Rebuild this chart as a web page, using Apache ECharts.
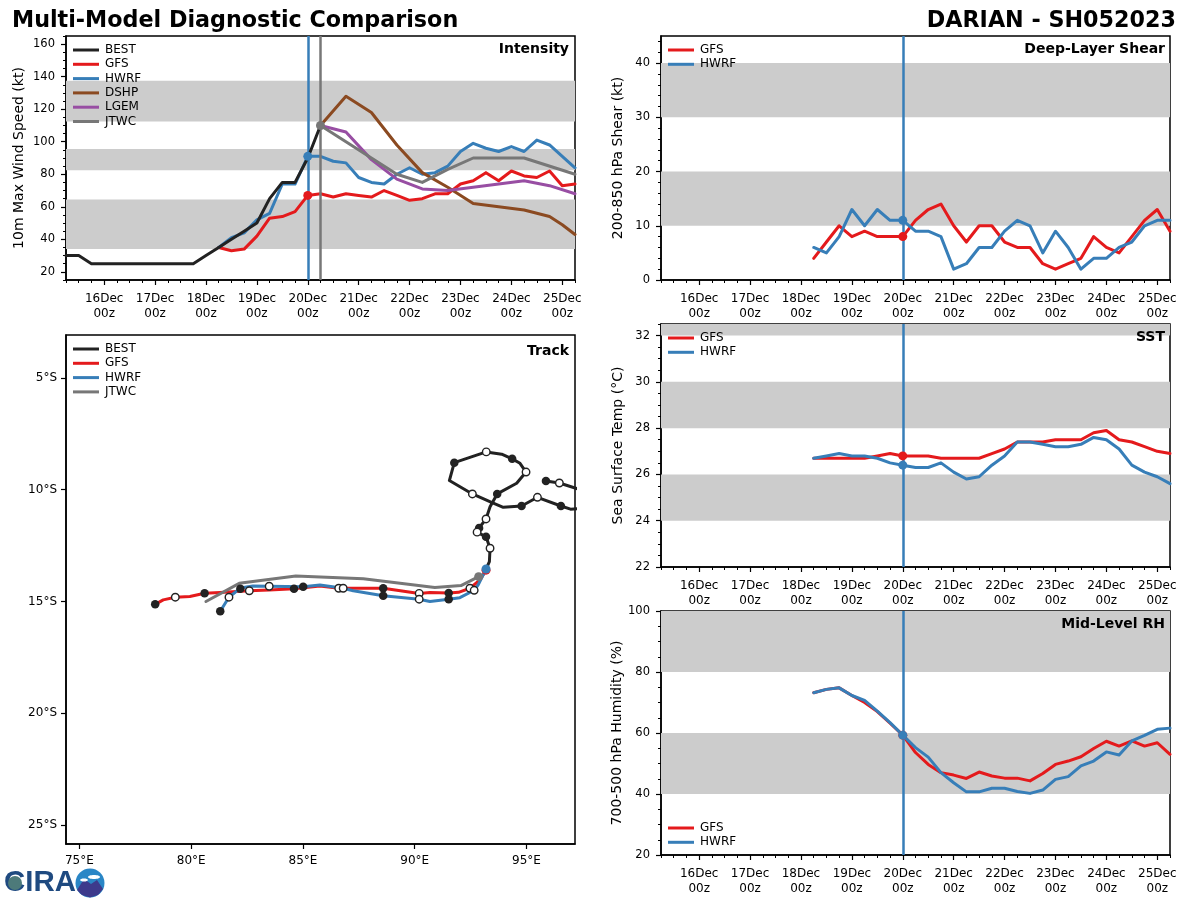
<!DOCTYPE html>
<html>
<head>
<meta charset="utf-8">
<title>Multi-Model Diagnostic Comparison</title>
<script src="https://cdn.jsdelivr.net/npm/echarts@6/dist/echarts.min.js"></script>
<style>
  html, body { margin: 0; padding: 0; background: #fff; }
  #chart { width: 1200px; height: 900px; }
</style>
</head>
<body>
<div id="chart"></div>
<script>
var COLOR_BEST = '#222222';
var COLOR_GFS = '#e41a1c';
var COLOR_HWRF = '#377eb8';
var COLOR_DSHP = '#8b4a21';
var COLOR_LGEM = '#984ea3';
var COLOR_JTWC = '#777777';
var COLOR_BAND = '#cccccc';
var FONT = '"DejaVu Sans", sans-serif';

// 6 hourly, 15Dec 06z .. 25Dec 06z
var timeLabels = [
  '15Dec06z', '15Dec12z', '15Dec18z',
  '16Dec00z', '16Dec06z', '16Dec12z', '16Dec18z',
  '17Dec00z', '17Dec06z', '17Dec12z', '17Dec18z',
  '18Dec00z', '18Dec06z', '18Dec12z', '18Dec18z',
  '19Dec00z', '19Dec06z', '19Dec12z', '19Dec18z',
  '20Dec00z', '20Dec06z', '20Dec12z', '20Dec18z',
  '21Dec00z', '21Dec06z', '21Dec12z', '21Dec18z',
  '22Dec00z', '22Dec06z', '22Dec12z', '22Dec18z',
  '23Dec00z', '23Dec06z', '23Dec12z', '23Dec18z',
  '24Dec00z', '24Dec06z', '24Dec12z', '24Dec18z',
  '25Dec00z', '25Dec06z'
];
var modelTimes = timeLabels.slice(12);

// intensity (kt)
var bestWind = [30, 30, 25, 25, 25, 25, 25, 25, 25, 25, 25, 30, 35, 40, 45, 50, 65, 75, 75, 90, 110];
var gfsWind = [35, 33, 34, 42, 53, 54, 57, 67, 68, 66, 68, 67, 66, 70, 67, 64, 65, 68, 68, 74, 76, 81, 76, 82, 79, 78, 82, 73, 74];
var hwrfWind = [35, 41, 44, 52, 56, 74, 74, 91, 91, 88, 87, 78, 75, 74, 80, 84, 80, 81, 85, 94, 99, 96, 94, 97, 94, 101, 98, 91, 84];
var dshpTimes = ['20Dec06z', '20Dec18z', '21Dec06z', '21Dec18z', '22Dec06z', '22Dec18z', '23Dec06z', '23Dec18z', '24Dec06z', '24Dec18z', '25Dec00z', '25Dec06z'];
var dshpWind = [110, 128, 118, 98, 81, 72, 62, 60, 58, 54, 49, 43];
var lgemTimes = ['20Dec06z', '20Dec18z', '21Dec06z', '21Dec18z', '22Dec06z', '22Dec18z', '23Dec06z', '23Dec18z', '24Dec06z', '24Dec18z', '25Dec06z'];
var lgemWind = [110, 106, 89, 77, 71, 70, 72, 74, 76, 73, 68];
var jtwcTimes = ['20Dec06z', '20Dec18z', '21Dec06z', '21Dec18z', '22Dec06z', '22Dec18z', '23Dec06z', '24Dec06z', '25Dec06z'];
var jtwcWind = [110, 100, 90, 80, 75, 83, 90, 90, 80];

// deep layer shear (kt)
var gfsShear = [4, 7, 10, 8, 9, 8, 8, 8, 11, 13, 14, 10, 7, 10, 10, 7, 6, 6, 3, 2, 3, 4, 8, 6, 5, 8, 11, 13, 9];
var hwrfShear = [6, 5, 8, 13, 10, 13, 11, 11, 9, 9, 8, 2, 3, 6, 6, 9, 11, 10, 5, 9, 6, 2, 4, 4, 6, 7, 10, 11, 11];

// sst (C)
var gfsSst = [26.7, 26.7, 26.7, 26.7, 26.7, 26.8, 26.9, 26.8, 26.8, 26.8, 26.7, 26.7, 26.7, 26.7, 26.9, 27.1, 27.4, 27.4, 27.4, 27.5, 27.5, 27.5, 27.8, 27.9, 27.5, 27.4, 27.2, 27.0, 26.9];
var hwrfSst = [26.7, 26.8, 26.9, 26.8, 26.8, 26.7, 26.5, 26.4, 26.3, 26.3, 26.5, 26.1, 25.8, 25.9, 26.4, 26.8, 27.4, 27.4, 27.3, 27.2, 27.2, 27.3, 27.6, 27.5, 27.1, 26.4, 26.1, 25.9, 25.6];

// mid level rh (%)
var gfsRh = [73.2, 74.3, 74.8, 72.3, 70, 67, 63.2, 59.3, 53.6, 49.7, 47, 46.2, 45.1, 47.2, 45.9, 45.2, 45.2, 44.3, 46.7, 49.7, 50.8, 52.2, 54.9, 57.3, 55.7, 57.4, 55.7, 56.8, 53];
var hwrfRh = [73.2, 74.3, 74.8, 72.3, 70.7, 67.2, 63.4, 59.3, 55.2, 52.1, 47, 43.7, 40.7, 40.7, 41.9, 41.9, 40.8, 40.2, 41.3, 44.8, 45.7, 49.2, 50.8, 53.8, 52.8, 57.4, 59.2, 61.2, 61.6];

// track, [lon, lat]
var bestTrack = [
  [95.87, -9.61], [96.47, -9.70], [97.35, -9.98], [97.6, -10.5], [97.35, -10.85], [96.97, -10.87], [96.54, -10.73],
  [95.49, -10.34], [94.78, -10.73], [93.96, -10.79], [93.41, -10.56], [92.58, -10.19], [91.55, -9.59], [91.77, -8.79],
  [93.2, -8.31], [93.89, -8.41], [94.36, -8.62], [94.71, -8.82], [94.98, -9.21], [94.56, -9.71], [93.69, -10.19],
  [93.37, -10.76], [93.19, -11.31], [92.88, -11.71], [92.79, -11.9], [93.19, -12.11], [93.37, -12.62], [93.34, -13.22], [93.19, -13.55]
];
var gfsTrack = [
  [93.19, -13.6], [92.92, -14.04], [92.47, -14.41], [91.96, -14.59], [91.52, -14.62], [90.68, -14.6], [90.2, -14.64], [88.59, -14.41],
  [86.6, -14.41], [85.76, -14.31], [84.6, -14.43], [83.49, -14.49], [82.6, -14.52], [81.29, -14.6], [80.6, -14.63], [79.94, -14.78],
  [79.29, -14.81], [78.75, -14.93], [78.39, -15.13]
];
var hwrfTrack = [
  [93.19, -13.55], [92.84, -14.26], [92.66, -14.5], [92.02, -14.83], [91.52, -14.9], [90.68, -15.0], [90.2, -14.9], [88.59, -14.74],
  [87.25, -14.52], [86.8, -14.41], [85.76, -14.26], [85.01, -14.34], [83.49, -14.32], [82.76, -14.31], [82.2, -14.4], [81.69, -14.81], [81.3, -15.44]
];
var jtwcTrack = [
  [92.86, -13.89], [92.07, -14.29], [90.9, -14.38], [87.7, -13.98], [84.68, -13.86], [82.15, -14.19], [80.66, -15.0]
];
var trackBlackDots = [
  [95.87, -9.61], [96.54, -10.73], [94.78, -10.73], [91.77, -8.79], [94.36, -8.62], [93.69, -10.19], [92.88, -11.71], [93.19, -12.11],
  [91.52, -14.62], [91.52, -14.9], [88.59, -14.41], [88.59, -14.74], [84.6, -14.43], [85.01, -14.34], [82.2, -14.43], [80.6, -14.63], [78.39, -15.13], [81.3, -15.44]
];
var trackWhiteDots = [
  [96.47, -9.70], [95.49, -10.34], [92.58, -10.19], [93.2, -8.31], [94.98, -9.21], [93.19, -11.31], [92.79, -11.9], [93.37, -12.62],
  [92.47, -14.41], [92.66, -14.5], [90.2, -14.64], [90.2, -14.9], [86.6, -14.41], [86.8, -14.41], [83.49, -14.32], [82.6, -14.52], [81.69, -14.81], [79.29, -14.81]
];

var windBands = [[34, 64.5], [82.5, 95.5], [112.5, 137.5]];
var shearBands = [[10, 20], [30, 40]];
var sstBands = [[24, 26], [28, 30], [32, 32.5]];
var rhBands = [[40, 60], [80, 100]];

var windTicks = [20, 40, 60, 80, 100, 120, 140, 160];
var shearTicks = [0, 10, 20, 30, 40];
var sstTicks = [22, 24, 26, 28, 30, 32];
var rhTicks = [20, 40, 60, 80, 100];
var lonTicks = [75, 80, 85, 90, 95];
var latTicks = [-5, -10, -15, -20, -25];

function minorValues(min, max, step, majors){
  var out = [];
  for (var v = min; v <= max + 1e-9; v += step) {
    if (majors.indexOf(v) < 0) {
      out.push(v);
    }
  }
  return out;
}

function zipXY(xs, ys){
  return ys.map(function(y, i){
    return [xs[i], y];
  });
}

var grids = [];
var xAxes = [];
var yAxes = [];
var series = [];
var legends = [];

var majorTimeIdx = function(i){
  return i % 4 === 3;
};

// adds one time panel, returns its axis index
function addTimePanel(left, top, height, yName, yMin, yMax, ticks, minorStep, nameGap){
  var g = grids.length;
  grids.push({
    left: left, top: top, width: 509, height: height, show: true,
    borderColor: '#000', borderWidth: 1.5, backgroundColor: 'transparent', containLabel: false
  });
  xAxes.push({
    type: 'category', gridIndex: g, data: timeLabels, boundaryGap: false, position: 'bottom',
    axisLine: {lineStyle: {color: '#000', width: 1.5}},
    axisTick: {alignWithLabel: true, interval: majorTimeIdx, length: 5, lineStyle: {color: '#000', width: 1.2}},
    axisLabel: {
      interval: majorTimeIdx, color: '#000', fontFamily: FONT, fontSize: 12, lineHeight: 15, margin: 11,
      hideOverlap: false,
      formatter: function(v){
        return v.substring(0, 5) + '\n' + v.substring(5);
      }
    },
    splitLine: {show: false}
  });
  xAxes.push({
    type: 'category', gridIndex: g, data: timeLabels, boundaryGap: false, position: 'bottom',
    axisLine: {show: false},
    axisTick: {alignWithLabel: true, interval: 0, length: 3, lineStyle: {color: '#000', width: 1}},
    axisLabel: {show: false},
    splitLine: {show: false}
  });
  yAxes.push({
    type: 'value', gridIndex: g, min: yMin, max: yMax, position: 'left',
    name: yName, nameLocation: 'middle', nameRotate: 90, nameGap: nameGap,
    nameTextStyle: {color: '#000', fontFamily: FONT, fontSize: 14},
    axisLine: {show: true, lineStyle: {color: '#000', width: 1.5}},
    axisTick: {show: true, customValues: ticks, length: 5, lineStyle: {color: '#000', width: 1.2}},
    axisLabel: {customValues: ticks, color: '#000', fontFamily: FONT, fontSize: 11.5, margin: 11, padding: [5, 0, 0, 0]},
    splitLine: {show: false}
  });
  yAxes.push({
    type: 'value', gridIndex: g, min: yMin, max: yMax, position: 'left',
    axisLine: {show: false},
    axisTick: {show: true, customValues: minorValues(yMin, yMax, minorStep, ticks), length: 3, lineStyle: {color: '#000', width: 1}},
    axisLabel: {show: false},
    splitLine: {show: false}
  });
  return xAxes.length - 2;
}

function addBands(axisIdx, bands, lines){
  var yIdx = axisIdx;
  series.push({
    type: 'line', xAxisIndex: axisIdx, yAxisIndex: yIdx, data: [], z: 1, silent: true,
    markArea: {
      silent: true,
      itemStyle: {color: COLOR_BAND},
      data: bands.map(function(b){
        return [{yAxis: b[0]}, {yAxis: b[1]}];
      })
    }
  });
  lines.forEach(function(l){
    series.push({
      type: 'line', xAxisIndex: axisIdx, yAxisIndex: yIdx, data: [], z: 3, silent: true,
      markLine: {
        silent: true, symbol: 'none', animation: false, label: {show: false},
        lineStyle: {color: l.color, width: 2.5, type: 'solid'},
        data: [{xAxis: l.time}]
      }
    });
  });
}

function addLine(axisIdx, name, color, times, values, z){
  series.push({
    type: 'line', name: name, xAxisIndex: axisIdx, yAxisIndex: axisIdx,
    data: zipXY(times, values), symbol: 'none', z: z || 4, clip: true,
    lineStyle: {color: color, width: 3, cap: 'round', join: 'round'},
    itemStyle: {color: color}
  });
}

function addDot(axisIdx, color, time, value){
  series.push({
    type: 'scatter', xAxisIndex: axisIdx, yAxisIndex: axisIdx, data: [[time, value]],
    symbol: 'circle', symbolSize: 9, z: 6, itemStyle: {color: color, opacity: 1}
  });
}

function addLegend(left, top, names){
  legends.push({
    left: left, top: top, orient: 'vertical', data: names, selectedMode: false,
    icon: 'rect', itemWidth: 26, itemHeight: 3, itemGap: 2.3, padding: 0,
    textStyle: {color: '#000', fontFamily: FONT, fontSize: 12, padding: [0, 0, 0, 1]}
  });
}

var NOW_LINE = {color: COLOR_HWRF, time: '20Dec00z'};
var JTWC_LINE = {color: COLOR_JTWC, time: '20Dec06z'};

// Intensity
var ax = addTimePanel(66, 36, 244, '10m Max Wind Speed (kt)', 15, 165, windTicks, 5, 40);
addBands(ax, windBands, [NOW_LINE, JTWC_LINE]);
addLine(ax, 'GFS', COLOR_GFS, modelTimes, gfsWind);
addLine(ax, 'HWRF', COLOR_HWRF, modelTimes, hwrfWind);
addLine(ax, 'DSHP', COLOR_DSHP, dshpTimes, dshpWind);
addLine(ax, 'LGEM', COLOR_LGEM, lgemTimes, lgemWind);
addLine(ax, 'JTWC', COLOR_JTWC, jtwcTimes, jtwcWind);
addLine(ax, 'BEST', COLOR_BEST, timeLabels, bestWind, 5);
addDot(ax, COLOR_GFS, '20Dec00z', gfsWind[7]);
addDot(ax, COLOR_HWRF, '20Dec00z', hwrfWind[7]);
addDot(ax, COLOR_JTWC, '20Dec06z', jtwcWind[0]);
addLegend(73, 44, ['BEST', 'GFS', 'HWRF', 'DSHP', 'LGEM', 'JTWC']);

// Deep-Layer Shear
ax = addTimePanel(661, 36, 244, '200-850 hPa Shear (kt)', 0, 45, shearTicks, 2, 36);
addBands(ax, shearBands, [NOW_LINE]);
addLine(ax, 'GFS', COLOR_GFS, modelTimes, gfsShear);
addLine(ax, 'HWRF', COLOR_HWRF, modelTimes, hwrfShear);
addDot(ax, COLOR_GFS, '20Dec00z', gfsShear[7]);
addDot(ax, COLOR_HWRF, '20Dec00z', hwrfShear[7]);
addLegend(668, 44, ['GFS', 'HWRF']);

// SST
ax = addTimePanel(661, 324, 243, 'Sea Surface Temp (°C)', 22, 32.5, sstTicks, 0.5, 36);
addBands(ax, sstBands, [NOW_LINE]);
addLine(ax, 'GFS', COLOR_GFS, modelTimes, gfsSst);
addLine(ax, 'HWRF', COLOR_HWRF, modelTimes, hwrfSst);
addDot(ax, COLOR_GFS, '20Dec00z', gfsSst[7]);
addDot(ax, COLOR_HWRF, '20Dec00z', hwrfSst[7]);
addLegend(668, 332, ['GFS', 'HWRF']);

// Mid-Level RH
ax = addTimePanel(661, 611, 244, '700-500 hPa Humidity (%)', 20, 100, rhTicks, 5, 36);
addBands(ax, rhBands, [NOW_LINE]);
addLine(ax, 'GFS', COLOR_GFS, modelTimes, gfsRh);
addLine(ax, 'HWRF', COLOR_HWRF, modelTimes, hwrfRh);
addDot(ax, COLOR_GFS, '20Dec00z', gfsRh[7]);
addDot(ax, COLOR_HWRF, '20Dec00z', hwrfRh[7]);
addLegend(668, 822, ['GFS', 'HWRF']);

// Track
var tg = grids.length;
grids.push({left: 66, top: 335, width: 509, height: 509, show: true, borderColor: '#000', borderWidth: 1.5, backgroundColor: 'transparent'});
xAxes.push({
  type: 'value', gridIndex: tg, min: 74.4, max: 97.17, position: 'bottom',
  axisLine: {lineStyle: {color: '#000', width: 1.5}},
  axisTick: {show: true, customValues: lonTicks, length: 5, lineStyle: {color: '#000', width: 1.2}},
  axisLabel: {customValues: lonTicks, color: '#000', fontFamily: FONT, fontSize: 12, margin: 11, formatter: function(v){ return v + '°E'; }},
  splitLine: {show: false}
});
yAxes.push({
  type: 'value', gridIndex: tg, min: -25.85, max: -3.08, position: 'left',
  axisLine: {show: true, lineStyle: {color: '#000', width: 1.5}},
  axisTick: {show: true, customValues: latTicks, length: 5, lineStyle: {color: '#000', width: 1.2}},
  axisLabel: {customValues: latTicks, color: '#000', fontFamily: FONT, fontSize: 12, margin: 9, padding: [3, 0, 0, 0], formatter: function(v){ return Math.abs(v) + '°S'; }},
  splitLine: {show: false}
});
var tx = xAxes.length - 1;
function addTrack(name, color, points){
  series.push({
    type: 'line', name: name, xAxisIndex: tx, yAxisIndex: tx, data: points, symbol: 'none', z: 4, clip: true,
    lineStyle: {color: color, width: 3, cap: 'round', join: 'round'}, itemStyle: {color: color}
  });
}
addTrack('BEST', COLOR_BEST, bestTrack);
addTrack('GFS', COLOR_GFS, gfsTrack);
addTrack('HWRF', COLOR_HWRF, hwrfTrack);
addTrack('JTWC', COLOR_JTWC, jtwcTrack);
series.push({
  type: 'scatter', xAxisIndex: tx, yAxisIndex: tx, data: trackBlackDots, symbol: 'circle', symbolSize: 8.5, z: 5,
  itemStyle: {color: COLOR_BEST, opacity: 1}
});
series.push({
  type: 'scatter', xAxisIndex: tx, yAxisIndex: tx, data: trackWhiteDots, symbol: 'circle', symbolSize: 7.5, z: 5,
  itemStyle: {color: '#fff', borderColor: COLOR_BEST, borderWidth: 1.4, opacity: 1}
});
series.push({
  type: 'scatter', xAxisIndex: tx, yAxisIndex: tx, data: [gfsTrack[0]], symbol: 'circle', symbolSize: 9, z: 6,
  itemStyle: {color: COLOR_GFS, opacity: 1}
});
series.push({
  type: 'scatter', xAxisIndex: tx, yAxisIndex: tx, data: [hwrfTrack[0]], symbol: 'circle', symbolSize: 9, z: 6,
  itemStyle: {color: COLOR_HWRF, opacity: 1}
});
series.push({
  type: 'scatter', xAxisIndex: tx, yAxisIndex: tx, data: [jtwcTrack[0]], symbol: 'circle', symbolSize: 9, z: 6,
  itemStyle: {color: COLOR_JTWC, opacity: 1}
});
addLegend(73, 343, ['BEST', 'GFS', 'HWRF', 'JTWC']);

function panelTitle(text, rightEdge, top){
  return {
    text: text, right: 1200 - rightEdge, top: top, padding: 0,
    textStyle: {color: '#000', fontFamily: FONT, fontSize: 14, fontWeight: 'bold'}
  };
}

var option = {
  animation: false,
  backgroundColor: '#fff',
  title: [
    {text: 'Multi-Model Diagnostic Comparison', left: 12, top: 10, padding: 0,
      textStyle: {color: '#000', fontFamily: FONT, fontSize: 22.25, fontWeight: 'bold'}},
    {text: 'DARIAN - SH052023', right: 24, top: 10, padding: 0,
      textStyle: {color: '#000', fontFamily: FONT, fontSize: 22.25, fontWeight: 'bold'}},
    panelTitle('Intensity', 569, 42),
    panelTitle('Deep-Layer Shear', 1165, 42),
    panelTitle('Track', 569, 344),
    panelTitle('SST', 1165, 330),
    panelTitle('Mid-Level RH', 1165, 617)
  ],
  grid: grids,
  xAxis: xAxes,
  yAxis: yAxes,
  legend: legends,
  series: series,
  // rough CIRA logo, bottom left
  graphic: [
    {type: 'text', x: 4, y: 868, scaleX: 1.09, scaleY: 1.12, style: {text: 'CIRA', fill: '#1f4a80', font: 'bold 27px "Liberation Sans", sans-serif'}},
    {type: 'circle', shape: {cx: 15, cy: 883, r: 7}, style: {fill: '#4d7a7a'}},
    {type: 'circle', shape: {cx: 90, cy: 883, r: 14.5}, style: {fill: '#2a86c6'}},
    {type: 'polygon', shape: {points: [[77, 890], [84, 879], [91, 884], [97, 880], [103, 889], [98, 895], [90, 897.5], [82, 895]]}, style: {fill: '#3d3a8c'}},
    {type: 'ellipse', shape: {cx: 94, cy: 877, rx: 6, ry: 2}, style: {fill: '#fff'}},
    {type: 'ellipse', shape: {cx: 84, cy: 880, rx: 4, ry: 1.5}, style: {fill: '#fff'}}
  ]
};

var chart = echarts.init(document.getElementById('chart'), null, {renderer: 'canvas'});
chart.setOption(option);
</script>
</body>
</html>
